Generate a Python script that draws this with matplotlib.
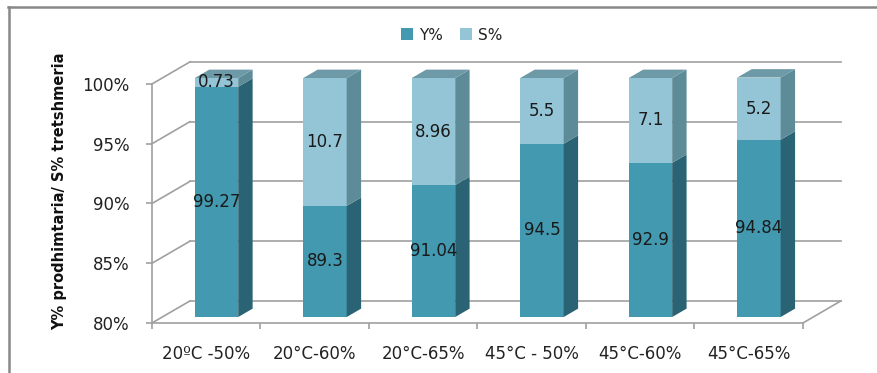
import matplotlib.pyplot as plt
from matplotlib.patches import Polygon
import numpy as np

# Conditions (temperature - humidity)
categories = ['20ºC -50%', '20°C-60%', '20°C-65%', '45°C - 50%', '45°C-60%', '45°C-65%']
# Yield (Y%) and remainder (S%) per condition
y_vals = [99.27, 89.3, 91.04, 94.5, 92.9, 94.84]
s_vals = [0.73, 10.7, 8.96, 5.5, 7.1, 5.2]
y_labels = ['99.27', '89.3', '91.04', '94.5', '92.9', '94.84']
s_labels = ['0.73', '10.7', '8.96', '5.5', '7.1', '5.2']
yticks = [80, 85, 90, 95, 100]

# colours for front / side / top faces
c_y, c_y_side = '#4299B0', '#2A6373'
c_s, c_s_side = '#93C5D7', '#5E8B98'
c_top = '#6E99A6'
grid_c = '#A0A0A0'

# pseudo 3D depth of the walls and bars (data units)
wall_dx, wall_dy = 0.35, 1.85
bar_f0, bar_fd = 0.27, 0.38          # start of bar in depth, bar depth fraction
bar_w = 0.40
ox, oy = wall_dx * bar_f0, wall_dy * bar_f0
bdx, bdy = wall_dx * bar_fd, wall_dy * bar_fd
base = 80

fig = plt.figure(figsize=(8.77, 3.73), dpi=100)
ax = fig.add_axes([152 / 877, 1 - 323 / 373, 690 / 877, 261 / 373])
n = len(categories)
ax.set_xlim(-0.5, 5.86)
ax.set_ylim(base, 101.84)

# back wall gridlines and left wall diagonals
for t in yticks:
    ax.plot([-0.5 + wall_dx, n - 0.5 + wall_dx], [t + wall_dy, t + wall_dy],
            color=grid_c, lw=1.2, zorder=1, clip_on=False)
    ax.plot([-0.5, -0.5 + wall_dx], [t, t + wall_dy], color=grid_c, lw=1.2, zorder=1, clip_on=False)
# floor right edge
ax.plot([n - 0.5, n - 0.5 + wall_dx], [base, base + wall_dy], color=grid_c, lw=1.2, zorder=1, clip_on=False)

x = np.arange(n)
xb = x + ox
bottoms = base + oy
ax.bar(xb, np.array(y_vals) - base, width=bar_w, bottom=bottoms, color=c_y, zorder=3, label='Y%')
ax.bar(xb, s_vals, width=bar_w, bottom=np.array(y_vals) + oy, color=c_s, zorder=3, label='S%')

for i in range(n):
    xr = xb[i] + bar_w / 2
    xl = xb[i] - bar_w / 2
    y0 = bottoms
    y1 = y_vals[i] + oy
    y2 = y_vals[i] + s_vals[i] + oy
    # side faces
    ax.add_patch(Polygon([(xr, y0), (xr, y1), (xr + bdx, y1 + bdy), (xr + bdx, y0 + bdy)],
                         closed=True, fc=c_y_side, ec='none', zorder=3))
    ax.add_patch(Polygon([(xr, y1), (xr, y2), (xr + bdx, y2 + bdy), (xr + bdx, y1 + bdy)],
                         closed=True, fc=c_s_side, ec='none', zorder=3))
    # top face
    ax.add_patch(Polygon([(xl, y2), (xr, y2), (xr + bdx, y2 + bdy), (xl + bdx, y2 + bdy)],
                         closed=True, fc=c_top, ec='none', zorder=3))
    # value labels
    ax.text(xb[i], (y0 + y1) / 2, y_labels[i], ha='center', va='center', fontsize=12, color='#1a1a1a', zorder=5)
    ax.text(xb[i], (y1 + y2) / 2, s_labels[i], ha='center', va='center', fontsize=12, color='#1a1a1a', zorder=5)

# axes
for side in ['top', 'right']:
    ax.spines[side].set_visible(False)
ax.spines['left'].set_bounds(80, 100)
ax.spines['bottom'].set_bounds(-0.5, n - 0.5)
for side in ['left', 'bottom']:
    ax.spines[side].set_color(grid_c)
    ax.spines[side].set_linewidth(1.2)

ax.set_yticks(yticks)
ax.set_yticklabels([f'{t}%' for t in yticks], fontsize=12, color='#222222')
ax.tick_params(axis='y', length=4, width=1.2, color=grid_c, pad=12)
ax.set_xticks(x)
ax.set_xticklabels(categories, fontsize=12, color='#222222')
ax.set_xticks(np.arange(-0.5, n, 1.0), minor=True)
ax.tick_params(axis='x', which='major', length=0, pad=16)
ax.tick_params(axis='x', which='minor', length=4, width=1.2, color=grid_c)

fig.text(60 / 877, 1 - 191 / 373, 'Y% prodhimtaria/ S% tretshmeria', rotation=90,
         ha='center', va='center', fontsize=10.5, fontweight='bold', color='#111111')

fig.legend(loc='center', bbox_to_anchor=(452 / 877, 1 - 35 / 373), ncol=2, frameon=False,
           fontsize=11, handlelength=0.8, handleheight=0.8, handletextpad=0.4,
           columnspacing=1.1, labelcolor='#222222')

# chart frame
fig.add_artist(plt.Line2D([8 / 877, 1], [1 - 7 / 373] * 2, transform=fig.transFigure, color='#888888', lw=1.8))
fig.add_artist(plt.Line2D([8.5 / 877] * 2, [0, 1 - 7 / 373], transform=fig.transFigure, color='#888888', lw=1.8))

fig.savefig('out.png', dpi=100)
